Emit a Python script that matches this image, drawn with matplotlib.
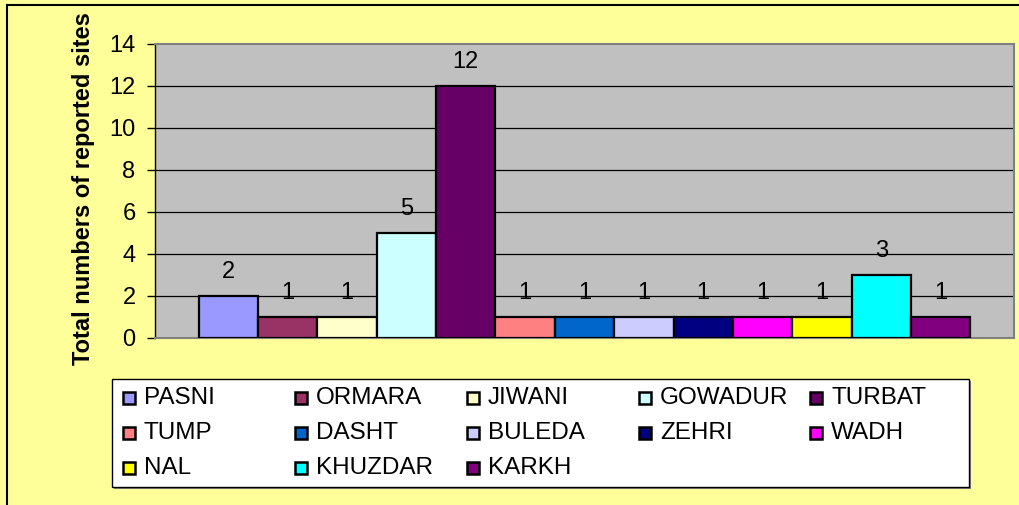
import matplotlib.pyplot as plt
from matplotlib.patches import Rectangle
from matplotlib.lines import Line2D

plt.rcParams['font.family'] = ['Liberation Sans', 'DejaVu Sans']

sites = ['PASNI', 'ORMARA', 'JIWANI', 'GOWADUR', 'TURBAT', 'TUMP', 'DASHT',
         'BULEDA', 'ZEHRI', 'WADH', 'NAL', 'KHUZDAR', 'KARKH']
counts = [2, 1, 1, 5, 12, 1, 1, 1, 1, 1, 1, 3, 1]
colors = ['#9999FF', '#993366', '#FFFFCC', '#CCFFFF', '#660066', '#FF8080', '#0066CC',
          '#CCCCFF', '#000080', '#FF00FF', '#FFFF00', '#00FFFF', '#800080']
yticks = [0, 2, 4, 6, 8, 10, 12, 14]

W, H = 1019, 505
FS = 17
fig = plt.figure(figsize=(W / 100, H / 100), dpi=100, facecolor='#FFFF99')

# plot area in pixels: left 155, right 1014, top 44, bottom 338
ax = fig.add_axes([155 / W, 1 - 338 / H, (1014 - 155) / W, (338 - 44) / H])
ax.set_facecolor('#C0C0C0')

for i, (name, v, c) in enumerate(zip(sites, counts, colors)):
    ax.bar(i, v, width=1.0, color=c, edgecolor='black', linewidth=1.6, zorder=3)
    ax.annotate(str(v), (i, v), xytext=(0, 17), textcoords='offset points',
                ha='center', va='center', fontsize=FS, zorder=4)

gap = 0.734
ax.set_xlim(-0.5 - gap, len(sites) - 0.5 + gap)
ax.set_ylim(0, 14)
ax.set_yticks(yticks)
ax.set_xticks([])
ax.tick_params(axis='y', direction='out', length=6, width=1, pad=8, labelsize=FS)
for y in yticks[1:-1]:
    ax.axhline(y, color='black', linewidth=0.9, zorder=1)

ax.spines['left'].set_color('black')
ax.spines['left'].set_linewidth(1)
for s in ['top', 'right', 'bottom']:
    ax.spines[s].set_color('#808080')
    ax.spines[s].set_linewidth(1.5)

fig.text(84 / W, 1 - 189 / H, 'Total numbers of reported sites', rotation=90,
         ha='center', va='center', fontsize=FS, fontweight='bold')

# outer chart frame (only left and top edges are visible)
fig.add_artist(Line2D([7 / W, 7 / W], [0, 1 - 5 / H], color='black', linewidth=1.5,
                      transform=fig.transFigure))
fig.add_artist(Line2D([7 / W, 1], [1 - 5 / H, 1 - 5 / H], color='black', linewidth=1.5,
                      transform=fig.transFigure))

# legend box, Excel style, 5 columns filled row by row
lx0, lx1, ly0, ly1 = 112, 969, 379, 487
fig.add_artist(Rectangle(((lx0 + 2) / W, 1 - (ly1 + 2) / H), (lx1 - lx0) / W, (ly1 - ly0) / H,
                         transform=fig.transFigure, facecolor='#808080', edgecolor='none'))
fig.add_artist(Rectangle((lx0 / W, 1 - ly1 / H), (lx1 - lx0) / W, (ly1 - ly0) / H,
                         transform=fig.transFigure, facecolor='white', edgecolor='black',
                         linewidth=1))
col_x = [123, 295, 467, 639, 810]
row_y = [398, 433, 468]
sq = 12
for k, (name, c) in enumerate(zip(sites, colors)):
    px = col_x[k % 5]
    py = row_y[k // 5]
    fig.add_artist(Rectangle((px / W, 1 - (py + sq / 2) / H), sq / W, sq / H,
                             transform=fig.transFigure, facecolor=c, edgecolor='black',
                             linewidth=1.8))
    fig.text((px + 21) / W, 1 - py / H, name, ha='left', va='center', fontsize=17.5)

fig.savefig('out.png', dpi=100, facecolor=fig.get_facecolor())
